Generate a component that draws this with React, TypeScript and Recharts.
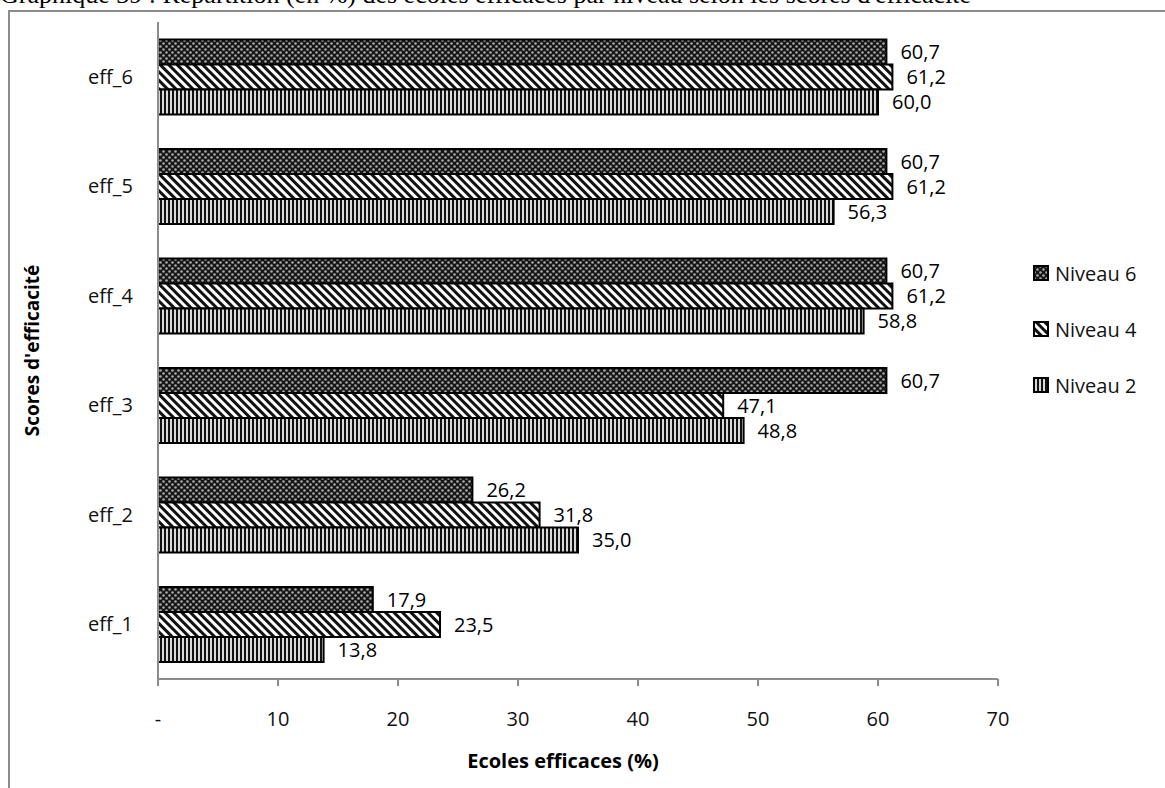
import React from "react";
import { BarChart, Bar, XAxis, YAxis, Legend, LabelList } from "recharts";

const categories = ["eff_6", "eff_5", "eff_4", "eff_3", "eff_2", "eff_1"];
const niveau6 = [60.7, 60.7, 60.7, 60.7, 26.2, 17.9];
const niveau4 = [61.2, 61.2, 61.2, 47.1, 31.8, 23.5];
const niveau2 = [60.0, 56.3, 58.8, 48.8, 35.0, 13.8];
const xTicks = [0, 10, 20, 30, 40, 50, 60, 70];
const bandTicks = [0, 1, 2, 3, 4, 5, 6];

const data = categories.map((c, i) => ({
  cat: c,
  n6: niveau6[i],
  n4: niveau4[i],
  n2: niveau2[i],
}));

const FONT = "'Open Sans', sans-serif";
const fmt = (v: number) => v.toFixed(1).replace(".", ",");

const series = [
  { key: "n6", name: "Niveau 6", fill: "url(#patN6)" },
  { key: "n4", name: "Niveau 4", fill: "url(#patN4)" },
  { key: "n2", name: "Niveau 2", fill: "url(#patN2)" },
];

const renderLegend = () => (
  <div style={{ fontFamily: FONT, fontSize: 20, color: "#111" }}>
    {series.map((s) => (
      <div key={s.key} style={{ display: "flex", alignItems: "center", height: 56 }}>
        <svg width={16} height={16} style={{ marginRight: 6 }}>
          <rect x={1} y={1} width={14} height={14} fill={s.fill} stroke="#000" strokeWidth={2} />
        </svg>
        <span>{s.name}</span>
      </div>
    ))}
  </div>
);

const YTitle = (props: any) => {
  const vb = props.viewBox || { x: 0, y: 0, width: 0, height: 0 };
  const cx = 32;
  const cy = vb.y + vb.height / 2;
  return (
    <text
      x={cx}
      y={cy}
      transform={`rotate(-90, ${cx}, ${cy})`}
      textAnchor="middle"
      dominantBaseline="central"
      fontFamily={FONT}
      fontSize={19}
      fontWeight={700}
      fill="#000"
    >
      Scores d'efficacité
    </text>
  );
};

export default function App() {
  return (
    <div style={{ position: "absolute", left: 0, top: 0, width: 1165, height: 788, overflow: "hidden", background: "#fff" }}>
      <div
        style={{
          position: "absolute",
          left: 0,
          top: -18,
          fontFamily: "'Liberation Serif', serif",
          fontSize: 26,
          lineHeight: "26px",
          whiteSpace: "nowrap",
          color: "#000",
        }}
      >
        Graphique 39 : Répartition (en %) des écoles efficaces par niveau selon les scores d'efficacité
      </div>
      <div
        style={{
          position: "absolute",
          left: 8,
          top: 10,
          width: 1200,
          height: 820,
          border: "2px solid #8c8c8c",
          boxSizing: "border-box",
        }}
      />
      <div style={{ position: "absolute", left: 0, top: 0 }}>
        <BarChart
          width={1165}
          height={788}
          data={data}
          layout="vertical"
          margin={{ top: 22, right: 37, bottom: 0, left: 0 }}
          barCategoryGap="16%"
          barGap={0}
        >
          <defs>
            <pattern id="patN6" width="6" height="6" patternUnits="userSpaceOnUse">
              <rect width="6" height="6" fill="#161616" />
              <circle cx="1.5" cy="1.5" r="1.3" fill="#a8a8a8" />
              <circle cx="4.5" cy="4.5" r="1.3" fill="#a8a8a8" />
            </pattern>
            <pattern id="patN4" width="6" height="6" patternUnits="userSpaceOnUse" patternTransform="rotate(-45)">
              <rect width="6" height="6" fill="#fff" />
              <rect width="3" height="6" fill="#111" />
            </pattern>
            <pattern id="patN2" width="4" height="4" patternUnits="userSpaceOnUse">
              <rect width="4" height="4" fill="#d9d9d9" />
              <rect width="2" height="4" fill="#111" />
            </pattern>
          </defs>
          <XAxis
            type="number"
            domain={[0, 70]}
            ticks={xTicks}
            interval={0}
            height={109}
            tickFormatter={(v: number) => (v === 0 ? "-" : String(v))}
            tick={{ fill: "#111", fontSize: 20, fontFamily: FONT }}
            tickMargin={26}
            tickSize={7}
            stroke="#8c8c8c"
            strokeWidth={2}
            label={{
              value: "Ecoles efficaces (%)",
              position: "insideBottom",
              offset: 20,
              dx: -15,
              fill: "#000",
              fontSize: 20,
              fontWeight: 700,
              fontFamily: FONT,
            }}
          />
          <YAxis
            yAxisId="band"
            type="number"
            domain={[0, 6]}
            ticks={bandTicks}
            interval={0}
            width={0}
            tickFormatter={() => ""}
            tickSize={7}
            axisLine={false}
            stroke="#8c8c8c"
            strokeWidth={2}
          />
          <YAxis
            yAxisId="cat"
            type="category"
            dataKey="cat"
            width={158}
            tickLine={false}
            tickMargin={19}
            tick={{ fill: "#111", fontSize: 20, fontFamily: FONT }}
            stroke="#8c8c8c"
            strokeWidth={2}
            label={<YTitle />}
          />
          <Legend
            layout="vertical"
            align="right"
            verticalAlign="top"
            content={renderLegend}
            wrapperStyle={{ left: 1033, top: 245, width: 130 }}
          />
          {series.map((s) => (
            <Bar
              key={s.key}
              yAxisId="cat"
              dataKey={s.key}
              name={s.name}
              fill={s.fill}
              stroke="#000"
              strokeWidth={2}
              isAnimationActive={false}
            >
              <LabelList
                dataKey={s.key}
                position="right"
                offset={14}
                formatter={(v: any) => fmt(Number(v))}
                fill="#000"
                fontSize={20}
                fontFamily={FONT}
              />
            </Bar>
          ))}
        </BarChart>
      </div>
    </div>
  );
}
